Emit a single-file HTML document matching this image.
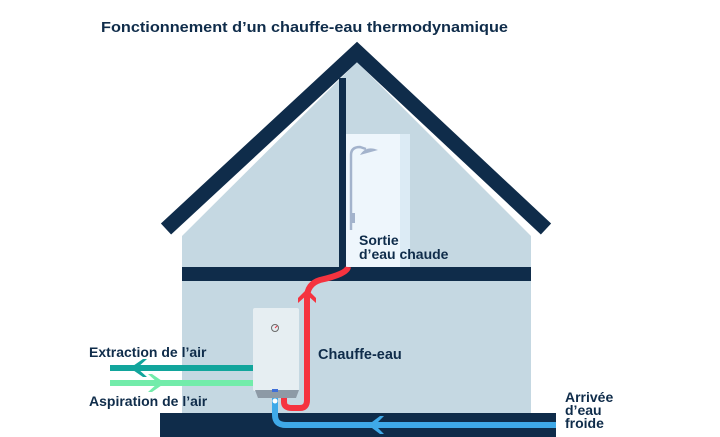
<!DOCTYPE html>
<html><head><meta charset="utf-8"><style>
html,body{margin:0;padding:0;background:#fff;}
svg{display:block;}
text{font-family:"Liberation Sans",sans-serif;font-weight:bold;fill:#0f2c4a;}
</style></head><body>
<svg width="720" height="437" viewBox="0 0 720 437" xmlns="http://www.w3.org/2000/svg">
<polygon points="182,236 357,62 531,236 531,413 182,413" fill="#c5d8e2"/>
<rect x="346" y="134" width="64" height="133" fill="#eef6fc"/>
<rect x="400" y="134" width="10" height="133" fill="#dcebf5"/>
<path d="M351,230 V155 Q351,147 360,147 L366,149" fill="none" stroke="#a3b3cc" stroke-width="2.5"/>
<path d="M360,155 Q366,145 378,150 Z" fill="#a3b3cc"/>
<rect x="350" y="213" width="5" height="10" fill="#a3b3cc"/>
<polyline points="166,229 357,52 546,229" fill="none" stroke="#0f2c4a" stroke-width="15" stroke-linejoin="miter"/>
<rect x="339" y="78" width="7" height="190" fill="#0f2c4a"/>
<rect x="182" y="267" width="349" height="14" fill="#0f2c4a"/>
<rect x="160" y="413" width="396" height="24" fill="#0f2c4a"/>
<rect x="110" y="365" width="143" height="6" fill="#12a59c"/>
<polygon points="130,368 143,359 147,359 137,368 147,377 143,377" fill="#12a59c"/>
<rect x="110" y="380" width="143" height="6" fill="#72ecaa"/>
<polygon points="165,383 152,374 148,374 158,383 148,392 152,392" fill="#72ecaa"/>
<path d="M275,398 V415 Q275,425 286,425 H556" fill="none" stroke="#3fa9e8" stroke-width="6"/>
<polygon points="368,425 380,416 384,416 375,425 384,434 380,434" fill="#3fa9e8"/>
<path d="M284,396 V402 Q284,408 292,408 H300 Q307,408 307,400 V298 Q307,284 320,280 Q347,274 348,267" fill="none" stroke="#f5333f" stroke-width="6"/>
<polygon points="307,289 298,298 298,303 307,295 316,303 316,298" fill="#f5333f"/>
<rect x="253" y="308" width="46" height="83" rx="2" fill="#e6eef2"/>
<polygon points="255,390 299,390 296,398 258,398" fill="#8d9aa6"/>
<rect x="272" y="389" width="6" height="3" fill="#3f6fd8"/>
<circle cx="275" cy="401" r="2.5" fill="#fff"/>
<circle cx="275" cy="328" r="3.5" fill="none" stroke="#6a6a6a" stroke-width="1"/>
<line x1="275" y1="328" x2="277" y2="326" stroke="#e34" stroke-width="1"/>
<text x="101" y="32" font-size="15" textLength="407" lengthAdjust="spacingAndGlyphs">Fonctionnement d’un chauffe-eau thermodynamique</text>
<text x="359" y="245" font-size="14">Sortie</text>
<text x="359" y="259" font-size="14">d’eau chaude</text>
<text x="318" y="359" font-size="14.5">Chauffe-eau</text>
<text x="89" y="357" font-size="14">Extraction de l’air</text>
<text x="89" y="406" font-size="14">Aspiration de l’air</text>
<text x="565" y="402" font-size="14">Arrivée</text>
<text x="565" y="415" font-size="14">d’eau</text>
<text x="565" y="428" font-size="14">froide</text>
</svg>
</body></html>
